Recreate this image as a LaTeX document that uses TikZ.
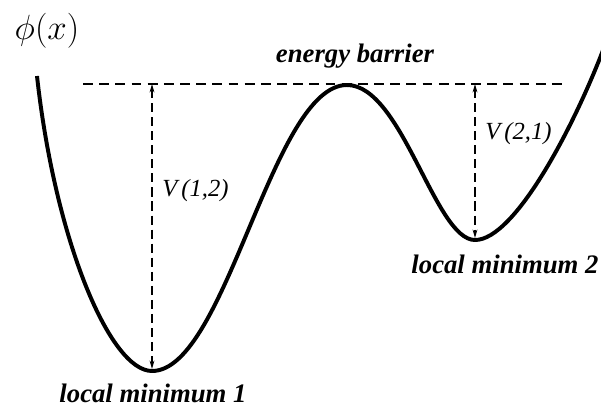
\documentclass[tikz,border=0pt]{standalone}
\usepackage{fontspec}
\setmainfont{Liberation Serif}
\usetikzlibrary{arrows.meta, calc}

\tikzset{
  well/.style = {line width=2.8pt, line join=round},
  level/.style = {line width=1.3pt, dash pattern=on 7pt off 4.5pt},
  gap/.style = {line width=1pt, dash pattern=on 6.5pt off 3.5pt,
    {Stealth[length=6pt,width=3.4pt]}-{Stealth[length=6pt,width=3.4pt]}},
  tag/.style = {font=\fontsize{19}{21}\selectfont\bfseries\itshape, anchor=base, inner sep=0pt},
  height/.style = {font=\fontsize{17.5}{19}\selectfont\itshape, anchor=base west, inner sep=0pt},
}

\begin{document}
\begin{tikzpicture}[x=0.025cm, y=-0.025cm]
\useasboundingbox (0,0) rectangle (601,410);

%mark the wells and the barrier
        \coordinate (S) at (37,76);
        \coordinate (M1) at (152,371);
        \coordinate (B) at (347,85);
        \coordinate (M2) at (475,240);
        \coordinate (E) at (605,45);
        \coordinate (L) at (83,84);
        \coordinate (R) at (565,84);

%the potential
        \begin{scope}
        \clip (0,0) rectangle (601,410);
        \draw[well] (S) .. controls (55,240) and (110,371) .. (M1)
                        .. controls (226,371) and (272,85) .. (B)
                        .. controls (402,85) and (435,240) .. (M2)
                        .. controls (515,240) and (575,125) .. (E);
        \end{scope}

%barrier level and heights
        \draw[level] (L) -- (R);
        \draw[gap] (M1 |- L) -- ($(M1)+(0,-2)$);
        \draw[gap] (M2 |- L) -- ($(M2)+(0,-2)$);

%labels
        \node[tag] (eb) at (355,62) {energy barrier};
        \node[tag] (lm1) at (153,402) {local minimum 1};
        \node[tag] (lm2) at (505,273) {local minimum 2};
        \node[height] (v12) at (162,196) {V\,(1,2)};
        \node[height] (v21) at (485,139) {V\,(2,1)};
        \node (phi) at (47,31) {\fontsize{25}{28}\selectfont$\phi(x)$};
\end{tikzpicture}
\end{document}
